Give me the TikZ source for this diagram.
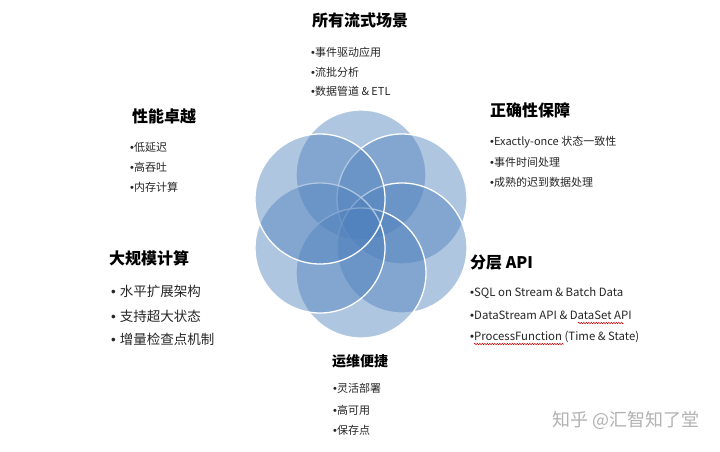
\documentclass[tikz,border=0pt]{standalone}
\usepackage{fontspec}
\setmainfont{Noto Sans CJK SC}
\newfontfamily\bulfont{Liberation Sans}
\newcommand\bul{{\bulfont •}}
\usetikzlibrary{decorations.pathmorphing}
\definecolor{petal}{RGB}{79,129,189}
\begin{document}
\begin{tikzpicture}[x=1pt,y=-1pt,
  petalnode/.style={circle,minimum size=130pt,inner sep=0pt,fill=petal,fill opacity=0.45,draw=white,line width=1.3pt},
  titlenode/.style={anchor=west,inner sep=0pt,font=\fontsize{16}{18}\selectfont\bfseries},
  itemnode/.style={anchor=west,inner sep=0pt,font=\fontsize{11}{13}\selectfont,text=black!85},
  apiitem/.style={anchor=west,inner sep=0pt,font=\fontsize{11.4}{13}\selectfont,text=black!85},
  bigitem/.style={anchor=west,inner sep=0pt,font=\fontsize{13.5}{16}\selectfont,text=black!85},
  squiggle/.style={draw=red!80!black,line width=0.5pt,decorate,decoration={snake,segment length=2.5pt,amplitude=0.7pt}}]
\useasboundingbox (0,0) rectangle (720,451);
\fill[white] (0,0) rectangle (720,451);
% petals (clockwise from top)
\node[petalnode] (ptop) at (361,175) {};
\node[petalnode] (pur)  at (402,199) {};
\node[petalnode] (plr)  at (402,248) {};
\node[petalnode] (pbot) at (361,273) {};
\node[petalnode] (pll)  at (320,248) {};
\node[petalnode] (pul)  at (320,199) {};
% top
\node[titlenode] (t1) at (312,20) {所有流式场景};
\node[itemnode] (t1a) at (311,52) {\bul{}事件驱动应用};
\node[itemnode] (t1b) at (311,72) {\bul{}流批分析};
\node[itemnode] (t1c) at (311,91) {\bul{}数据管道 \& ETL};
% upper right
\node[titlenode] (t2) at (490,110) {正确性保障};
\node[itemnode] (t2a) at (490,142) {\bul{}Exactly-once 状态一致性};
\node[itemnode] (t2b) at (490,162) {\bul{}事件时间处理};
\node[itemnode] (t2c) at (490,182) {\bul{}成熟的迟到数据处理};
% upper left
\node[titlenode] (t3) at (132,116) {性能卓越};
\node[itemnode] (t3a) at (130,147) {\bul{}低延迟};
\node[itemnode] (t3b) at (130,167) {\bul{}高吞吐};
\node[itemnode] (t3c) at (130,187) {\bul{}内存计算};
% lower left
\node[titlenode] (t4) at (109,258) {大规模计算};
\node[bigitem] (t4a) at (111,291) {\bul{}\hspace{4pt}水平扩展架构};
\node[bigitem] (t4b) at (111,316) {\bul{}\hspace{4pt}支持超大状态};
\node[bigitem] (t4c) at (111,339) {\bul{}\hspace{4pt}增量检查点机制};
% lower right
\node[titlenode] (t5) at (470,263) {分层 API};
\node[apiitem] (t5a) at (470,293) {\bul{}SQL on Stream \& Batch Data};
\node[apiitem] (t5b) at (470,315) {\bul{}DataStream API \& DataSet API};
\node[apiitem] (t5c) at (470,337) {\bul{}ProcessFunction (Time \& State)};
\draw[squiggle] (578,323) -- (624,323);
\draw[squiggle] (474,344) -- (564,344);
% bottom
\node[titlenode,font=\fontsize{14}{16}\selectfont\bfseries] (t6) at (332,361) {运维便捷};
\node[itemnode] (t6a) at (333,388) {\bul{}灵活部署};
\node[itemnode] (t6b) at (333,410) {\bul{}高可用};
\node[itemnode] (t6c) at (333,430) {\bul{}保存点};
% watermark
\node[anchor=east,inner sep=0pt,font=\fontsize{18}{20}\selectfont,text=black!30] (wm) at (700,420) {知乎 @汇智知了堂};
\end{tikzpicture}
\end{document}
